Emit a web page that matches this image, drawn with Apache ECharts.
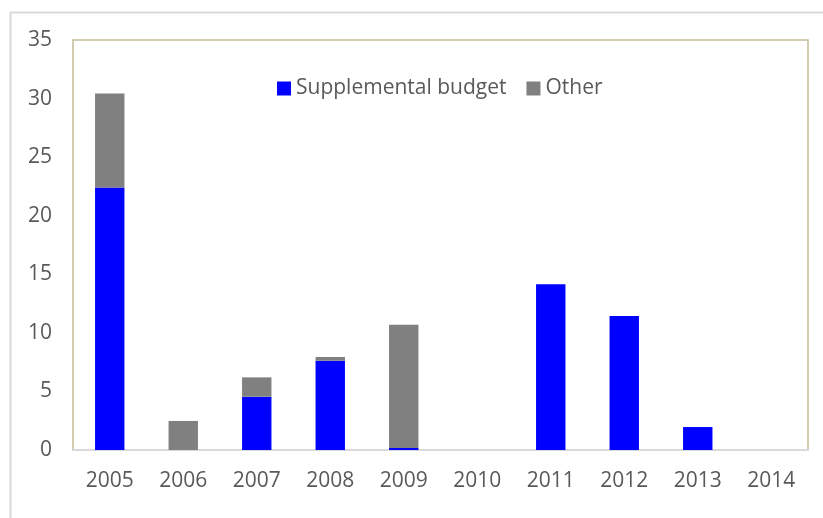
<!DOCTYPE html>
<html>
<head>
<meta charset="utf-8">
<script src="https://cdn.jsdelivr.net/npm/echarts@6/dist/echarts.min.js"></script>
<style>
  html, body { margin: 0; padding: 0; background: #fff; }
  #chart { width: 823px; height: 518px; }
</style>
</head>
<body>
<div id="chart"></div>
<script>
const years = ["2005", "2006", "2007", "2008", "2009", "2010", "2011", "2012", "2013", "2014"];
const supplemental = [22.4, 0, 4.55, 7.62, 0.17, 0, 14.14, 11.44, 1.96, 0];
const other = [8.03, 2.48, 1.65, 0.32, 10.53, 0, 0, 0, 0, 0];

const textColor = "#595959";
const fontFamily = "'Open Sans', 'Liberation Sans', sans-serif";

const myChart = echarts.init(document.getElementById("chart"));

myChart.setOption({
  animation: false,
  textStyle: { fontFamily: fontFamily },
  // outer chart frame
  graphic: [
    {
      type: "rect",
      shape: { x: 10.5, y: 12.5, width: 830, height: 520 },
      style: { fill: "none", stroke: "#d9d9d9", lineWidth: 2 },
      silent: true,
    },
  ],
  legend: {
    left: 272,
    top: 73,
    itemWidth: 14,
    itemHeight: 14,
    itemGap: 20,
    textStyle: { color: textColor, fontSize: 21, fontFamily: fontFamily },
    data: [
      { name: "Supplemental budget", icon: "rect" },
      { name: "Other", icon: "rect" },
    ],
  },
  grid: {
    left: 73,
    right: 15,
    top: 40,
    bottom: 68,
    show: true,
    borderColor: "#c4bd97",
    borderWidth: 1.5,
    backgroundColor: "transparent",
  },
  xAxis: {
    type: "category",
    data: years,
    axisTick: { show: false },
    axisLine: { lineStyle: { color: "#d9d9d9", width: 2 } },
    axisLabel: { color: textColor, fontSize: 21, margin: 21 },
  },
  yAxis: {
    type: "value",
    min: 0,
    max: 35,
    interval: 5,
    splitLine: { show: false },
    axisLine: { show: false },
    axisTick: { show: false },
    axisLabel: { color: textColor, fontSize: 21, margin: 21 },
  },
  series: [
    {
      name: "Supplemental budget",
      type: "bar",
      stack: "total",
      barWidth: "40%",
      itemStyle: { color: "#0000ff" },
      data: supplemental,
    },
    {
      name: "Other",
      type: "bar",
      stack: "total",
      barWidth: "40%",
      itemStyle: { color: "#808080" },
      data: other,
    },
  ],
});
</script>
</body>
</html>
